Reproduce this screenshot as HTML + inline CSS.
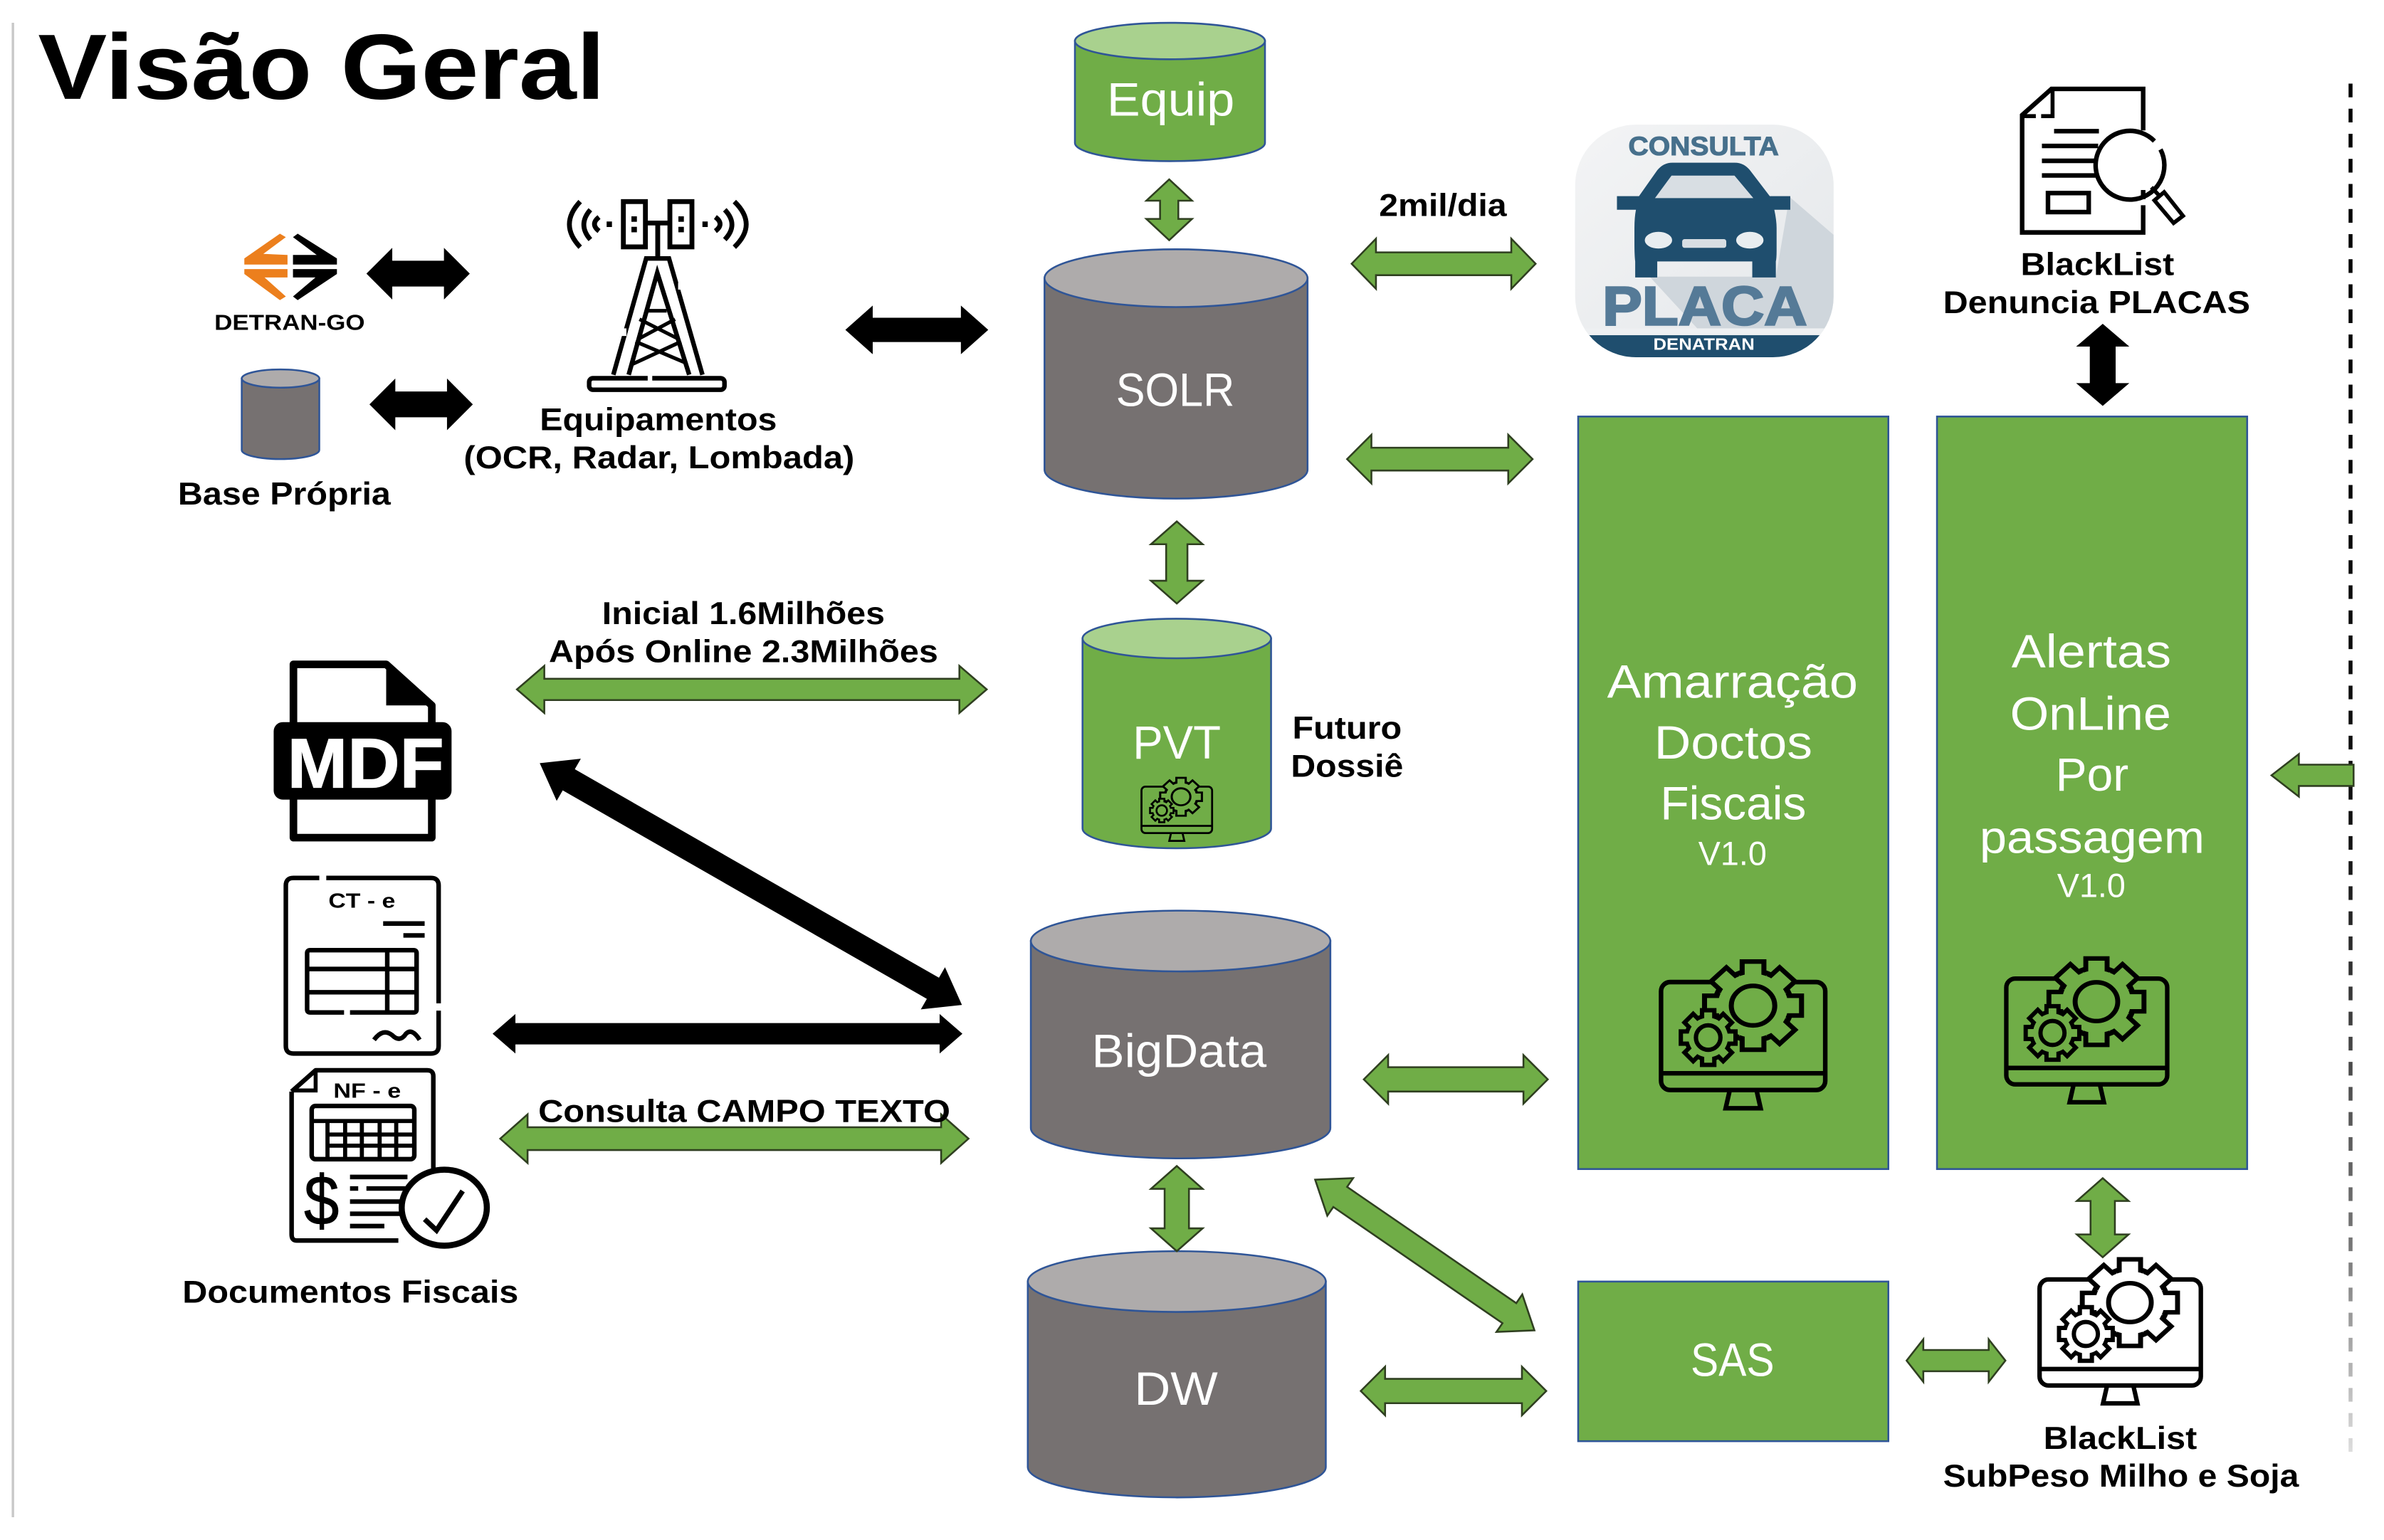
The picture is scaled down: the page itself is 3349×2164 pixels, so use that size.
<!DOCTYPE html>
<html lang="pt"><head><meta charset="utf-8"><title>Visão Geral</title>
<style>
html,body{margin:0;padding:0;background:#fff}
svg{display:block;width:3349px;height:2164px}
text{font-family:"Liberation Sans",sans-serif}
.b{font-weight:bold;fill:#000}
.w{fill:#fff}
.k{fill:#000;stroke:none}
.g{fill:#70ad47;stroke:#2f3f20;stroke-width:1.2}
.bx{fill:#70ad47;stroke:#2f5597;stroke-width:1.2}
</style></head><body>
<svg xmlns="http://www.w3.org/2000/svg" viewBox="0 0 1568 1013" preserveAspectRatio="none">
<defs>
<linearGradient id="dash" gradientUnits="userSpaceOnUse" x1="0" y1="55" x2="0" y2="955">
<stop offset="0" stop-color="#000"/><stop offset=".55" stop-color="#111"/><stop offset=".85" stop-color="#777"/><stop offset="1" stop-color="#ddd"/>
</linearGradient>
<linearGradient id="pbg" x1="0" y1="0" x2="1" y2="1"><stop offset="0" stop-color="#f3f4f5"/><stop offset="1" stop-color="#e4e7ea"/></linearGradient>
<clipPath id="pc"><rect x="1036" y="82" width="170" height="153" rx="40"/></clipPath>
<g id="tooth"><rect x="-6.5" y="-29" width="13" height="12" fill="currentColor" stroke="#000"/></g>
<g id="gear">
<circle r="23" fill="currentColor" stroke="#000"/>
<use href="#tooth"/><use href="#tooth" transform="rotate(45)"/><use href="#tooth" transform="rotate(90)"/><use href="#tooth" transform="rotate(135)"/><use href="#tooth" transform="rotate(180)"/><use href="#tooth" transform="rotate(225)"/><use href="#tooth" transform="rotate(270)"/><use href="#tooth" transform="rotate(315)"/>
<circle r="21" fill="currentColor"/>
<circle r="13" fill="none" stroke="#000"/>
</g>
<symbol id="mon" viewBox="0 0 111 100" overflow="visible">
<rect x="1.5" y="15" width="108" height="71" rx="6" fill="none" stroke="#000" stroke-width="3"/>
<line x1="2" y1="75" x2="109" y2="75" stroke="#000" stroke-width="3"/>
<path d="M46.5 87 L44 98 H67 L64.5 87" fill="none" stroke="#000" stroke-width="3"/>
<use href="#gear" transform="translate(62,30.5) scale(1.1,1)" stroke-width="3"/>
<use href="#gear" transform="translate(32.5,51.5) scale(.62)" stroke-width="4.6"/>
</symbol>
</defs>

<rect width="1568" height="1013" fill="#fff"/>
<line x1="8.5" y1="15" x2="8.5" y2="998" stroke="#c8c8c8" stroke-width="1.6"/>
<line x1="1546" y1="55" x2="1546" y2="955" stroke="url(#dash)" stroke-width="2.6" stroke-dasharray="9 7.5"/>

<text x="25" y="65" class="b" font-size="61" textLength="373" lengthAdjust="spacingAndGlyphs">Visão Geral</text>

<!-- cylinders -->
<g stroke="#2f5597" stroke-width="1.2">
<path d="M707 27 V94 A62.5 12 0 0 0 832 94 V27 Z" fill="#70ad47"/><ellipse cx="769.5" cy="27" rx="62.5" ry="12" fill="#a9d18e"/>
<path d="M687 183 V309 A86.5 19 0 0 0 860 309 V183 Z" fill="#767171"/><ellipse cx="773.5" cy="183" rx="86.5" ry="19" fill="#aeabab"/>
<path d="M712 420 V545 A62 13 0 0 0 836 545 V420 Z" fill="#70ad47"/><ellipse cx="774" cy="420" rx="62" ry="13" fill="#a9d18e"/>
<path d="M678 619 V742 A98.5 20 0 0 0 875 742 V619 Z" fill="#767171"/><ellipse cx="776.5" cy="619" rx="98.5" ry="20" fill="#aeabab"/>
<path d="M676 843 V965 A98 20 0 0 0 872 965 V843 Z" fill="#767171"/><ellipse cx="774" cy="843" rx="98" ry="20" fill="#aeabab"/>
<path d="M159 249 V296 A25.5 6 0 0 0 210 296 V249 Z" fill="#767171"/><ellipse cx="184.5" cy="249" rx="25.5" ry="6" fill="#aeabab"/>
</g>

<!-- boxes -->
<rect class="bx" x="1038" y="274" width="204" height="495"/>
<rect class="bx" x="1274" y="274" width="204" height="495"/>
<rect class="bx" x="1038" y="843" width="204" height="105"/>

<!-- white labels -->
<g class="w" font-size="31">
<text x="728" y="76" textLength="84" lengthAdjust="spacingAndGlyphs">Equip</text>
<text x="734" y="267" textLength="78" lengthAdjust="spacingAndGlyphs">SOLR</text>
<text x="745" y="499" textLength="58" lengthAdjust="spacingAndGlyphs">PVT</text>
<text x="718" y="702" textLength="115" lengthAdjust="spacingAndGlyphs">BigData</text>
<text x="746" y="924" textLength="55" lengthAdjust="spacingAndGlyphs">DW</text>
<text x="1112" y="905" textLength="55" lengthAdjust="spacingAndGlyphs">SAS</text>
<text x="1057" y="459" textLength="165" lengthAdjust="spacingAndGlyphs">Amarração</text>
<text x="1088" y="499" textLength="104" lengthAdjust="spacingAndGlyphs">Doctos</text>
<text x="1092" y="539" textLength="96" lengthAdjust="spacingAndGlyphs">Fiscais</text>
<text x="1117" y="569" font-size="22" textLength="45" lengthAdjust="spacingAndGlyphs">V1.0</text>
<text x="1323" y="439" textLength="105" lengthAdjust="spacingAndGlyphs">Alertas</text>
<text x="1322" y="480" textLength="106" lengthAdjust="spacingAndGlyphs">OnLine</text>
<text x="1352" y="520" textLength="48" lengthAdjust="spacingAndGlyphs">Por</text>
<text x="1302" y="561" font-size="30" textLength="148" lengthAdjust="spacingAndGlyphs">passagem</text>
<text x="1353" y="590" font-size="22" textLength="45" lengthAdjust="spacingAndGlyphs">V1.0</text>
</g>

<!-- gear monitors -->
<use href="#mon" x="1091" y="631" width="111" height="100" style="color:#70ad47"/>
<use href="#mon" x="1318" y="629" width="109" height="98" style="color:#70ad47"/>
<use href="#mon" x="1340" y="826" width="109" height="100" style="color:#fff"/>
<use href="#mon" x="750" y="511" width="48" height="43" style="color:#70ad47"/>

<!-- black arrows -->
<polygon class="k" points="241,180 258,163 258,171.5 292,171.5 292,163 309,180 292,197 292,188.5 258,188.5 258,197"/>
<polygon class="k" points="243,266 260,249 260,257.5 294,257.5 294,249 311,266 294,283 294,274.5 260,274.5 260,283"/>
<polygon class="k" points="556,217 574,201 574,209 632,209 632,201 650,217 632,233 632,225 574,225 574,233"/>
<polygon class="k" points="1383,213 1400.5,228 1391.5,228 1391.5,252 1400.5,252 1383,267 1365.5,252 1374.5,252 1374.5,228 1365.5,228"/>
<polygon class="k" points="324,680 339,667 339,673 618,673 618,667 633,680 618,693 618,687 339,687 339,693"/>
<polygon class="k" transform="translate(355,502) rotate(29.8)" points="0,0 22,-16 22,-8 298,-8 298,-16 320,0 298,16 298,8 22,8 22,16"/>

<!-- green arrows -->
<polygon class="g" points="889,173.5 905,157 905,166 994,166 994,157 1010,173.5 994,190 994,181 905,181 905,190"/>
<polygon class="g" points="886,302 902,286 902,294.5 992,294.5 992,286 1008,302 992,318 992,309.5 902,309.5 902,318"/>
<polygon class="g" points="769,118 784,132 775,132 775,144 784,144 769,158 754,144 763,144 763,132 754,132"/>
<polygon class="g" points="774,343 791,358 781,358 781,382 791,382 774,397 757,382 767,382 767,358 757,358"/>
<polygon class="g" points="340,453.5 358,438 358,446.5 631,446.5 631,438 649,453.5 631,469 631,460.5 358,460.5 358,469"/>
<polygon class="g" points="329,749 347,733 347,741.5 619,741.5 619,733 637,749 619,765 619,756.5 347,756.5 347,765"/>
<polygon class="g" points="897,710 913,694 913,702 1002,702 1002,694 1018,710 1002,726 1002,718 913,718 913,726"/>
<polygon class="g" points="895,915 911,899 911,907 1001,907 1001,899 1017,915 1001,931 1001,923 911,923 911,931"/>
<polygon class="g" points="774,767 791,782 782,782 782,808 791,808 774,823 757,808 766,808 766,782 757,782"/>
<polygon class="g" transform="translate(865,776) rotate(34.5)" points="0,0 20,-15 20,-8 155,-8 155,-15 175,0 155,15 155,8 20,8 20,15"/>
<polygon class="g" points="1254,895 1265,881 1265,888 1308,888 1308,881 1319,895 1308,909 1308,902 1265,902 1265,909"/>
<polygon class="g" points="1383,775 1400,790 1391,790 1391,812 1400,812 1383,827 1366,812 1375,812 1375,790 1366,790"/>
<polygon class="g" points="1494,510 1512,496 1512,503 1548,503 1548,517 1512,517 1512,524"/>

<!-- black labels -->
<g class="b" font-size="21">
<text x="141" y="217" font-size="14.5" textLength="99" lengthAdjust="spacingAndGlyphs">DETRAN-GO</text>
<text x="117" y="332" textLength="140" lengthAdjust="spacingAndGlyphs">Base Própria</text>
<text x="355" y="283" textLength="156" lengthAdjust="spacingAndGlyphs">Equipamentos</text>
<text x="305" y="308" textLength="257" lengthAdjust="spacingAndGlyphs">(OCR, Radar, Lombada)</text>
<text x="907" y="142" textLength="84" lengthAdjust="spacingAndGlyphs">2mil/dia</text>
<text x="1329" y="181" textLength="101" lengthAdjust="spacingAndGlyphs">BlackList</text>
<text x="1278" y="206" textLength="202" lengthAdjust="spacingAndGlyphs">Denuncia PLACAS</text>
<text x="396" y="410.5" textLength="186" lengthAdjust="spacingAndGlyphs">Inicial 1.6Milhões</text>
<text x="361" y="435.5" textLength="256" lengthAdjust="spacingAndGlyphs">Após Online 2.3Milhões</text>
<text x="850" y="486" textLength="72" lengthAdjust="spacingAndGlyphs">Futuro</text>
<text x="849" y="511" textLength="74" lengthAdjust="spacingAndGlyphs">Dossiê</text>
<text x="354" y="738" textLength="271" lengthAdjust="spacingAndGlyphs">Consulta CAMPO TEXTO</text>
<text x="120" y="857" textLength="221" lengthAdjust="spacingAndGlyphs">Documentos Fiscais</text>
<text x="1344" y="953" textLength="101" lengthAdjust="spacingAndGlyphs">BlackList</text>
<text x="1278" y="978" textLength="234" lengthAdjust="spacingAndGlyphs">SubPeso Milho e Soja</text>
</g>

<!-- DETRAN logo -->
<g fill="#ec7f1d">
<polygon points="184.1,153.7 188,156 173.2,167 189.1,167.7 189.1,174 160.7,174 160.7,170"/>
<polygon points="160.7,177 189.1,177 189.1,182.5 174,182.5 188,195 184.1,197.4 160.7,180.2"/>
</g>
<g fill="#000">
<polygon points="195.8,153.7 192.7,156 208.3,167.7 192.7,167.7 192.7,174 221.6,174 221.6,170"/>
<polygon points="192.7,177 221.6,177 221.6,180.2 195.8,197.4 192.7,195 207.5,182.5 192.7,182.5"/>
</g>

<!-- tower -->
<g fill="none" stroke="#000" stroke-width="3.2">
<rect x="410" y="132.6" width="14.5" height="29.8"/><rect x="440.6" y="132.6" width="14.5" height="29.8"/>
<path d="M424.5 146.7 H440.6 M432.6 146.7 V169.3"/>
<path d="M381.6 132.6 Q367.4 147.6 381.6 162.6 M388.3 138 Q379.7 147.8 388.3 157.6 M394 142.8 Q388 147.4 394 152 M483 132.6 Q498.6 147.6 483 162.6 M476.7 138 Q486.1 147.8 476.7 157.6 M470.5 142.8 Q476.7 147.4 470.5 152"/>
<path d="M399 147.5 H402.5 M462 147.5 H465.5" stroke-width="3.6"/>
<path d="M403.4 246.5 L425 170 H440 L462 246.5" stroke-width="3"/>
<path d="M413.5 246.5 L432.3 179.4 L453.3 246.5" stroke-width="3"/>
<path d="M426 204.4 H438.5 M420.6 210 L446.3 223 M444 210 L419.8 223 M418 224.7 L451 238.7 M448 224.7 L415 240" stroke-width="2.4"/>
<rect x="387.5" y="248.8" width="89" height="7.6" rx="2.5" stroke-width="3"/>
</g>
<rect x="405" y="216" width="7" height="5" fill="#fff"/><rect x="446" y="186" width="7" height="4.5" fill="#fff"/><rect x="426" y="246" width="3" height="5" fill="#fff"/>
<g fill="#000"><rect x="415.3" y="142.3" width="3.6" height="3.6"/><rect x="415.3" y="149.2" width="3.6" height="3.6"/><rect x="446.2" y="142.3" width="3.6" height="3.6"/><rect x="446.2" y="149.2" width="3.6" height="3.6"/></g>

<!-- PLACA logo -->
<rect x="1036" y="82" width="170" height="153" rx="40" fill="url(#pbg)"/>
<g clip-path="url(#pc)">
<polygon points="1177,129.5 1206,154.5 1206,220 1120,220 1085,182 1168,182" fill="#cfd6dc"/>
<rect x="1036" y="216" width="170" height="4" fill="#eef0f2"/>
<rect x="1036" y="220.5" width="170" height="16" fill="#1f4e6e"/>
</g>
<text x="1071" y="102" font-size="17.5" font-weight="bold" fill="#47708c" stroke="#47708c" stroke-width=".5" textLength="99" lengthAdjust="spacingAndGlyphs">CONSULTA</text>
<path fill="#1f4e6e" d="M1100 107 H1141 Q1147 107 1151 112 L1164 129 H1177.5 V138 H1167 Q1168.5 145 1168.5 150 V165 Q1168.5 170 1168 172 V182.5 H1152.5 V172 H1090 V182.5 H1075.5 V172 Q1075 168 1075 160 V150 Q1075 143 1076 138 H1063.5 V129 H1078 L1090 112 Q1094 107 1100 107Z"/>
<polygon points="1088.5,130.3 1099.4,115.5 1140.8,115.5 1153.2,130.3" fill="#d8dee3"/>
<ellipse cx="1090.8" cy="158" rx="9" ry="5.5" fill="#e8edf0"/><ellipse cx="1150.9" cy="158" rx="9" ry="5.5" fill="#e8edf0"/>
<rect x="1106.4" y="157.3" width="29" height="5.7" rx="1.5" fill="#d8dee3"/>
<text x="1054" y="213.7" font-size="36" font-weight="bold" fill="#557a97" stroke="#557a97" stroke-width="1.2" textLength="134.5" lengthAdjust="spacingAndGlyphs">PLACA</text>
<text x="1087.4" y="230.2" font-size="11" font-weight="bold" fill="#fff" textLength="66.6" lengthAdjust="spacingAndGlyphs">DENATRAN</text>

<!-- document search -->
<g fill="none" stroke="#000" stroke-width="3">
<path d="M1409.6 85.8 V58.5 H1349.3 L1330 75.7 V152.9 H1409.6 V135 M1409.6 125 V131"/>
<path d="M1350 59 V76.4 H1342.5 M1339 76.4 H1331" stroke-width="2.6"/>
<path d="M1351 86.3 H1380.5 M1343 96 H1380 M1343 105.8 H1378 M1343 115.4 H1380"/>
<rect x="1347" y="127" width="26.8" height="12.5" stroke-width="3"/>
<path d="M1421 98.3 A22.6 22.6 0 1 1 1417 92.8"/>
<path d="M1415 123.2 L1420.5 129" stroke-width="2.6"/>
<polygon points="1423.4,126.4 1435.8,142 1429.6,146.7 1417,131.8" stroke-width="2.6"/>
</g>

<!-- MDF -->
<path d="M193 437 H254 L284 464 V551 H193 Z" fill="#fff" stroke="#000" stroke-width="5" stroke-linejoin="round"/>
<polygon points="254,437 284,464 254,464" fill="#000"/>
<rect x="180" y="475" width="117" height="51" rx="6" fill="#000"/>
<text x="189" y="518" font-size="46" font-weight="bold" fill="#fff" stroke="#fff" stroke-width=".6" textLength="103" lengthAdjust="spacingAndGlyphs">MDF</text>

<!-- CT-e -->
<g fill="none" stroke="#000" stroke-width="3">
<path d="M210 577.5 H193 Q188 577.5 188 582.5 V688 Q188 693 193 693 H283.5 Q288.5 693 288.5 688 V664.8 M288.5 660 V582.5 Q288.5 577.5 283.5 577.5 H214.6"/>
<path d="M252 607.5 H279.3 M265.3 615.3 H279.3"/>
<path d="M226.3 666 H204 Q202 666 202 664 V627 Q202 625 204 625 H272 Q274 625 274 627 V664 Q274 666 272 666 H230.2"/>
<path d="M202 637.4 H274 M202 652.7 H274 M254.7 625 V666"/>
<path d="M246 684 Q252 676 258 681 Q263 686 267 680 Q271 676 276 684"/>
</g>
<text x="216" y="597" font-size="13.5" font-weight="bold" fill="#000" textLength="44" lengthAdjust="spacingAndGlyphs">CT - e</text>

<!-- NF-e -->
<g fill="none" stroke="#000" stroke-width="3">
<path d="M191.8 718 L207.6 704 H281 Q285 704 285 708 V780 M262 816 H195 Q191.8 816 191.8 812 V718" stroke-linejoin="round"/>
<path d="M207.6 704 V717.3 H192" stroke-width="2.6"/>
<rect x="205" y="727.5" width="67.5" height="35" rx="2.5"/>
<path d="M205 737.4 H272.5 M215.4 737 V762 M227 737 V762 M238 737 V762 M249.7 737 V762 M260.6 737 V762 M215 746.3 H272.5 M215 753.6 H272.5" stroke-width="2.7"/>
<path d="M230.2 774.2 H268 M230.2 781.8 H235.6 M241 781.8 H268 M230.2 790.4 H268 M230.2 798.4 H268 M230.2 806.5 H252.8"/>
</g>
<text x="200" y="805.5" font-size="46" fill="#000" stroke="#000" stroke-width=".5" textLength="23" lengthAdjust="spacingAndGlyphs">$</text>
<text x="219.3" y="722" font-size="13.5" font-weight="bold" fill="#000" textLength="44.4" lengthAdjust="spacingAndGlyphs">NF - e</text>
<ellipse cx="292.2" cy="794.4" rx="28" ry="25" fill="#fff" stroke="#000" stroke-width="4"/>
<path d="M279.3 802 L287.1 809.3 L304.3 783.4" fill="none" stroke="#000" stroke-width="3.4"/>
</svg>
</body></html>
